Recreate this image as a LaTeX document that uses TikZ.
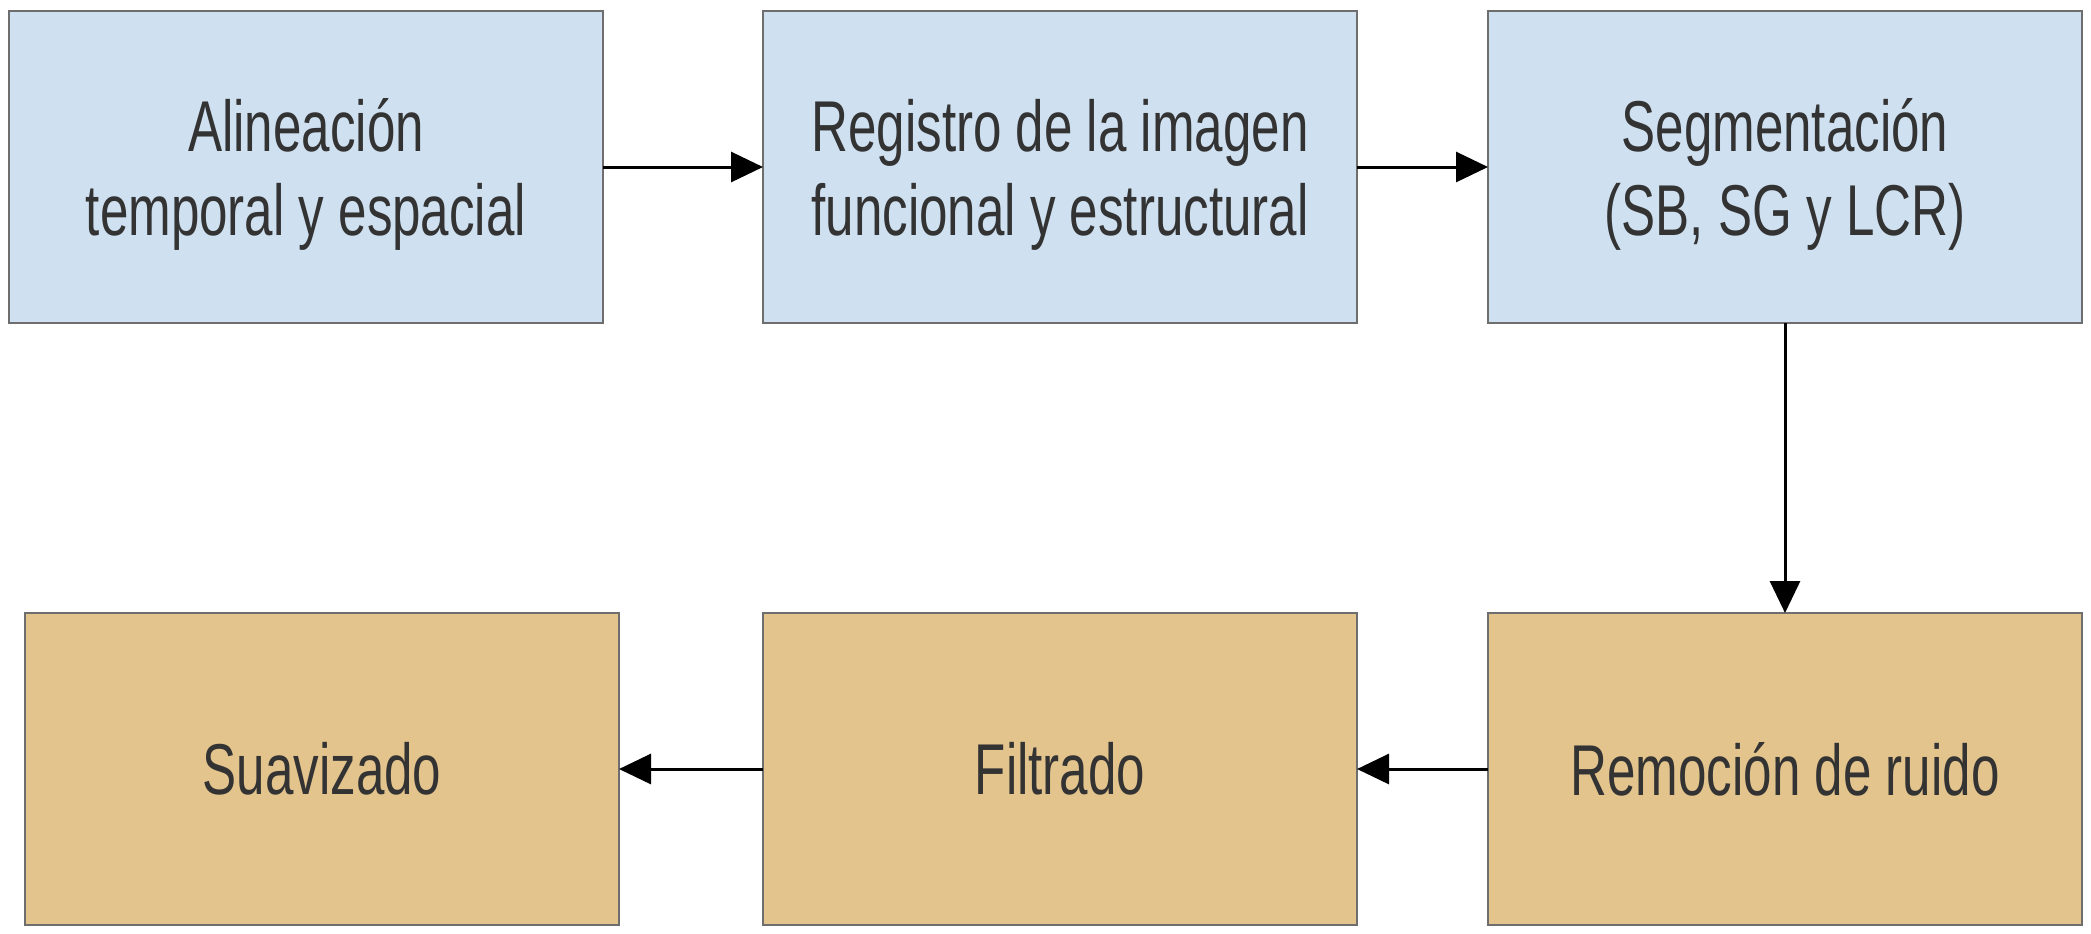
\documentclass[tikz,border=0pt]{standalone}
\usepackage{fontspec}
\setmainfont{Liberation Sans}[FakeStretch=0.71]
\usepackage{xcolor}
\usepackage{tikz}
\usetikzlibrary{arrows.meta,positioning}
\definecolor{stageblue}{HTML}{CFE0F0}
\definecolor{stagetan}{HTML}{E3C48D}
\definecolor{stageedge}{HTML}{6E6E6E}
\definecolor{stagetext}{HTML}{333333}

\begin{document}
\begin{tikzpicture}[
  stage/.style={draw=stageedge, line width=0.8pt, minimum width=297pt, minimum height=156pt,
    align=center, inner sep=0pt, outer sep=0pt, text=stagetext,
    font=\fontsize{36}{42}\selectfont},
  prestage/.style={stage, fill=stageblue, text depth=0pt},
  poststage/.style={stage, fill=stagetan},
  flow/.style={line width=1.5pt, -{Triangle[length=16pt, width=15pt]}}
]
\useasboundingbox (0,0) rectangle (1045.5pt,-466.5pt);
\node[prestage] (align) at (153pt,-83.5pt) {Alineación\\temporal y espacial};
\node[prestage, right=80pt of align] (register) {Registro de la imagen\\funcional y estructural};
\node[prestage, right=65.5pt of register] (segment) {Segmentación\\(SB, SG y LCR)};
\node[poststage, below=145pt of segment] (denoise) {Remoción de ruido};
\node[poststage, below=145pt of register] (filter) {Filtrado};
\node[poststage, left=72pt of filter] (smooth) {Suavizado};
\draw[flow] (align) -- (register);
\draw[flow] (register) -- (segment);
\draw[flow] (segment) -- (denoise);
\draw[flow] (denoise) -- (filter);
\draw[flow] (filter) -- (smooth);
\end{tikzpicture}
\end{document}
